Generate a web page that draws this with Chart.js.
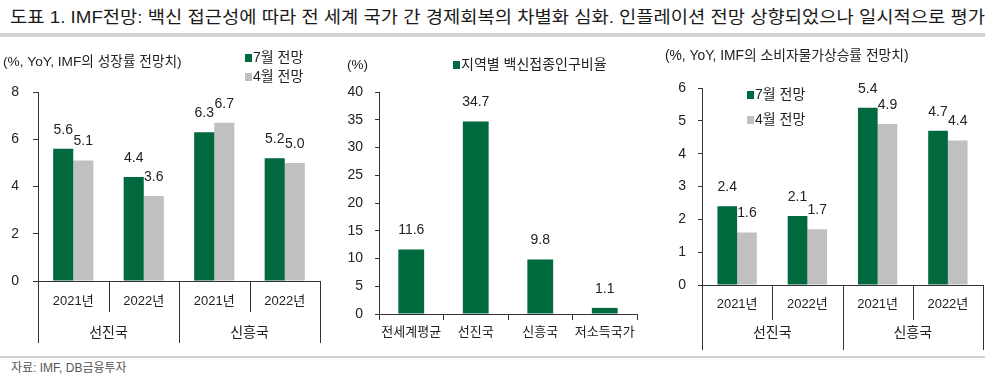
<!DOCTYPE html>
<html><head><meta charset="utf-8">
<script src="https://cdn.jsdelivr.net/npm/chart.js@4.4.0/dist/chart.umd.min.js"></script>
<style>
html,body{margin:0;padding:0;background:#fff;width:1000px;height:381px;overflow:hidden;font-family:"Liberation Sans","Noto Sans CJK KR",sans-serif;}
#title{position:absolute;left:10px;top:8px;font-size:17px;line-height:20px;color:#1a1a1a;white-space:nowrap;transform-origin:0 0;font-family:"Liberation Sans","Noto Sans CJK KR",sans-serif;}
#tline{position:absolute;left:0;top:33px;width:985px;height:4px;background:#d3d3d3;}
#fline{position:absolute;left:0;top:356px;width:985px;height:2px;background:#d0d0d0;}
#src{position:absolute;left:11px;top:361px;font-size:12px;line-height:14px;color:#555;}
canvas{position:absolute;}
</style></head>
<body>
<div id="title">도표 1. IMF전망: 백신 접근성에 따라 전 세계 국가 간 경제회복의 차별화 심화. 인플레이션 전망 상향되었으나 일시적으로 평가</div>
<div id="tline"></div>
<canvas id="c1" width="335" height="310" style="left:0;top:40px"></canvas>
<canvas id="c2" width="320" height="310" style="left:335px;top:40px"></canvas>
<canvas id="c3" width="345" height="315" style="left:655px;top:40px"></canvas>
<div id="fline"></div>
<div id="src">자료: IMF, DB금융투자</div>
<script>
// ---- data ----
const yearLabels = ['2021년','2022년','2021년','2022년'];
const groupLabels = ['선진국','신흥국'];
const seriesNames = ['7월 전망','4월 전망'];
const growthJul = [5.6,4.4,6.3,5.2];
const growthApr = [5.1,3.6,6.7,5.0];
const vaccLabels = ['전세계평균','선진국','신흥국','저소득국가'];
const vaccName = '지역별 백신접종인구비율';
const vaccRate = [11.6,34.7,9.8,1.1];
const cpiJul = [2.4,2.1,5.4,4.7];
const cpiApr = [1.6,1.7,4.9,4.4];

// ---- styles ----
const FONT = '"Liberation Sans","Noto Sans CJK KR",sans-serif';
const GREEN = '#00693e', GRAY = '#c0c0c0', TXT = '#222', AX = '#333';

const valPlugin = {id:'vals', afterDatasetsDraw(chart, args, opts){
  const ctx = chart.ctx; ctx.save();
  ctx.font = '14px ' + FONT; ctx.fillStyle = TXT; ctx.textAlign = 'center'; ctx.textBaseline = 'bottom';
  chart.data.datasets.forEach((ds, i) => {
    chart.getDatasetMeta(i).data.forEach((el, j) => {
      ctx.fillText(ds.data[j].toFixed(1), el.x, el.y - opts.offset);
    });
  });
  ctx.restore();
}};

const groupAxis = {id:'groupAxis', afterDraw(chart, args, opts){
  if (!opts.groups) return;
  const x = chart.scales.x, a = chart.chartArea, ctx = chart.ctx;
  const n = chart.data.labels.length, size = opts.size;
  ctx.save(); ctx.strokeStyle = AX; ctx.lineWidth = 1;
  for (let i = 0; i <= n; i++) {
    let px = i === 0 ? a.left : (i === n ? a.right : (x.getPixelForValue(i-1) + x.getPixelForValue(i)) / 2);
    px = Math.round(px) + 0.5;
    const len = (i % size === 0) ? opts.longLen : opts.shortLen;
    ctx.beginPath(); ctx.moveTo(px, a.bottom); ctx.lineTo(px, a.bottom + len); ctx.stroke();
  }
  ctx.font = '14px ' + FONT; ctx.fillStyle = TXT; ctx.textAlign = 'center'; ctx.textBaseline = 'middle';
  opts.groups.forEach((g, k) => {
    const c = (x.getPixelForValue(k*size) + x.getPixelForValue(k*size + size - 1)) / 2;
    ctx.fillText(g, c, a.bottom + opts.groupY);
  });
  ctx.restore();
}};

const annot = {id:'annot', afterDraw(chart, args, opts){
  const ctx = chart.ctx; ctx.save(); ctx.textBaseline = 'middle'; ctx.textAlign = 'left';
  (opts.texts || []).forEach(t => { ctx.fillStyle = TXT; ctx.font = t.size + 'px ' + FONT; ctx.fillText(t.text, t.x, t.y); });
  (opts.legend || []).forEach(l => {
    const ds = chart.data.datasets[l.ds];
    ctx.fillStyle = ds.backgroundColor; ctx.fillRect(l.x, l.y - 4, 7, 8);
    ctx.fillStyle = TXT; ctx.font = (l.size || 14) + 'px ' + FONT; ctx.fillText(ds.label, l.x + 8, l.y);
  });
  ctx.restore();
}};

function yScale(max, step, width, tl, pad){
  return {min:0, max:max, ticks:{stepSize:step, color:TXT, font:{size:14, family:FONT}, padding:pad},
    grid:{drawOnChartArea:false, tickLength:tl, color:AX}, border:{color:AX, width:1},
    afterFit(s){ s.width = width; }};
}

// ---- chart 1: growth ----
new Chart(document.getElementById('c1'), {
  type:'bar',
  data:{labels:yearLabels, datasets:[
    {label:seriesNames[0], data:growthJul, backgroundColor:GREEN},
    {label:seriesNames[1], data:growthApr, backgroundColor:GRAY}]},
  options:{responsive:false, animation:false, events:[],
    layout:{padding:{top:52, right:15, left:0, bottom:0}},
    datasets:{bar:{barPercentage:1, categoryPercentage:0.57}},
    scales:{
      x:{grid:{display:false, drawTicks:false}, border:{color:AX, width:1},
         ticks:{color:TXT, font:{size:13, family:FONT}, padding:13, maxRotation:0, autoSkip:false},
         afterFit(s){ s.height = 69; }},
      y:yScale(8, 2, 38, 5, 14)
    },
    plugins:{legend:{display:false}, tooltip:{enabled:false},
      vals:{offset:12},
      groupAxis:{groups:groupLabels, size:2, shortLen:31, longLen:62, groupY:52},
      annot:{texts:[{text:'(%, YoY, IMF의 성장률 전망치)', x:3, y:22, size:13.7}],
             legend:[{ds:0, x:245, y:18}, {ds:1, x:245, y:37}]}}
  },
  plugins:[valPlugin, groupAxis, annot]
});

// ---- chart 2: vaccination ----
new Chart(document.getElementById('c2'), {
  type:'bar',
  data:{labels:vaccLabels, datasets:[{label:vaccName, data:vaccRate, backgroundColor:GREEN}]},
  options:{responsive:false, animation:false, events:[],
    layout:{padding:{top:52, right:18, left:0, bottom:0}},
    datasets:{bar:{barPercentage:1, categoryPercentage:0.4}},
    scales:{
      x:{grid:{display:true, drawOnChartArea:false, drawTicks:true, tickLength:6, offset:true, color:AX},
         border:{color:AX, width:1},
         ticks:{color:TXT, font:{size:13, family:FONT}, padding:5, maxRotation:0, autoSkip:false},
         afterFit(s){ s.height = 36; }},
      y:yScale(40, 5, 44, 4, 12)
    },
    plugins:{legend:{display:false}, tooltip:{enabled:false},
      vals:{offset:12},
      annot:{texts:[{text:'(%)', x:12, y:25, size:13.5}],
             legend:[{ds:0, x:118, y:25, size:14}]}}
  },
  plugins:[valPlugin, annot]
});

// ---- chart 3: CPI ----
new Chart(document.getElementById('c3'), {
  type:'bar',
  data:{labels:yearLabels, datasets:[
    {label:seriesNames[0], data:cpiJul, backgroundColor:GREEN},
    {label:seriesNames[1], data:cpiApr, backgroundColor:GRAY}]},
  options:{responsive:false, animation:false, events:[],
    layout:{padding:{top:48, right:17, left:0, bottom:0}},
    datasets:{bar:{barPercentage:1, categoryPercentage:0.56}},
    scales:{
      x:{grid:{display:false, drawTicks:false}, border:{color:AX, width:1},
         ticks:{color:TXT, font:{size:13, family:FONT}, padding:12, maxRotation:0, autoSkip:false},
         afterFit(s){ s.height = 70; }},
      y:yScale(6, 1, 47, 4, 12)
    },
    plugins:{legend:{display:false}, tooltip:{enabled:false},
      vals:{offset:12},
      groupAxis:{groups:groupLabels, size:2, shortLen:35, longLen:65, groupY:48},
      annot:{texts:[{text:'(%, YoY, IMF의 소비자물가상승률 전망치)', x:10, y:16, size:13.8}],
             legend:[{ds:0, x:92, y:55}, {ds:1, x:92, y:80}]}}
  },
  plugins:[valPlugin, groupAxis, annot]
});

// fit title width
(function(){
  const t = document.getElementById('title');
  const w = t.scrollWidth;
  if (w > 0) t.style.transform = 'scaleX(' + (975 / w) + ')';
})();
</script>
</body></html>
